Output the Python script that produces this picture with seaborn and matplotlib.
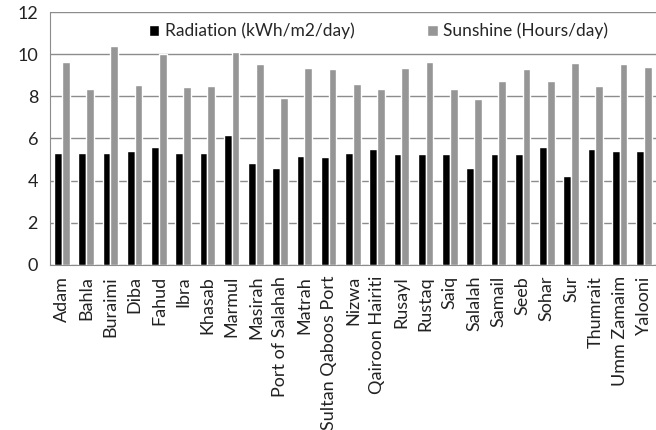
import seaborn as sns
import pandas as pd
import numpy as np
import matplotlib.pyplot as plt

stations = ["Adam", "Bahla", "Buraimi", "Diba", "Fahud", "Ibra", "Khasab", "Marmul",
            "Masirah", "Port of Salahah", "Matrah", "Sultan Qaboos Port", "Nizwa",
            "Qairoon Hairiti", "Rusayl", "Rustaq", "Saiq", "Salalah", "Samail", "Seeb",
            "Sohar", "Sur", "Thumrait", "Umm Zamaim", "Yalooni"]
radiation = [5.3, 5.3, 5.3, 5.39, 5.6, 5.3, 5.3, 6.16, 4.84, 4.58, 5.15, 5.1, 5.31,
             5.49, 5.28, 5.28, 5.28, 4.58, 5.28, 5.28, 5.61, 4.21, 5.49, 5.41, 5.41]
sunshine = [9.64, 8.36, 10.4, 8.54, 10.0, 8.46, 8.5, 10.12, 9.53, 7.9, 9.36, 9.31, 8.58,
            8.36, 9.36, 9.64, 8.36, 7.89, 8.71, 9.31, 8.71, 9.6, 8.5, 9.52, 9.39]
series = ["Radiation (kWh/m2/day)", "Sunshine (Hours/day)"]

df = pd.DataFrame({"station": stations, series[0]: radiation, series[1]: sunshine})
df = df.melt(id_vars="station", var_name="series", value_name="value")

sns.set_style("white")
plt.rcParams['font.family'] = ['Lato', 'DejaVu Sans']

fig, ax = plt.subplots(figsize=(6.56, 4.30), dpi=100)
fig.subplots_adjust(left=0.076, right=1.0, top=0.972, bottom=0.384)

sns.barplot(data=df, x="station", y="value", hue="series", order=stations,
            palette=["#000000", "#969696"], width=0.64, ax=ax, legend=True)

ax.set_ylim(0, 12)
ax.set_yticks(range(0, 13, 2))
ax.set_xlim(-0.5, len(stations) - 0.5)
ax.yaxis.grid(True, color="#8c8c8c", linewidth=1)
ax.set_axisbelow(True)
ax.set_xlabel("")
ax.set_ylabel("")

for s in ["top", "right"]:
    ax.spines[s].set_visible(False)
for s in ["left", "bottom"]:
    ax.spines[s].set_color("#8c8c8c")

ax.tick_params(axis="x", which="major", length=0, labelrotation=90, labelsize=13, pad=8)
ax.set_xticks(np.arange(-0.5, len(stations), 1), minor=True)
ax.tick_params(axis="x", which="minor", length=5, color="#8c8c8c", direction="out")
ax.tick_params(axis="y", length=5, color="#8c8c8c", labelsize=13, labelcolor="#222222")
ax.tick_params(axis="x", labelcolor="#222222")

ax.legend(loc="upper left", bbox_to_anchor=(0.152, 0.985), ncol=2, frameon=False,
          fontsize=12.5, handlelength=0.6, handleheight=0.6, handletextpad=0.3,
          columnspacing=4.2, borderaxespad=0)

plt.savefig("out.png", dpi=100)
